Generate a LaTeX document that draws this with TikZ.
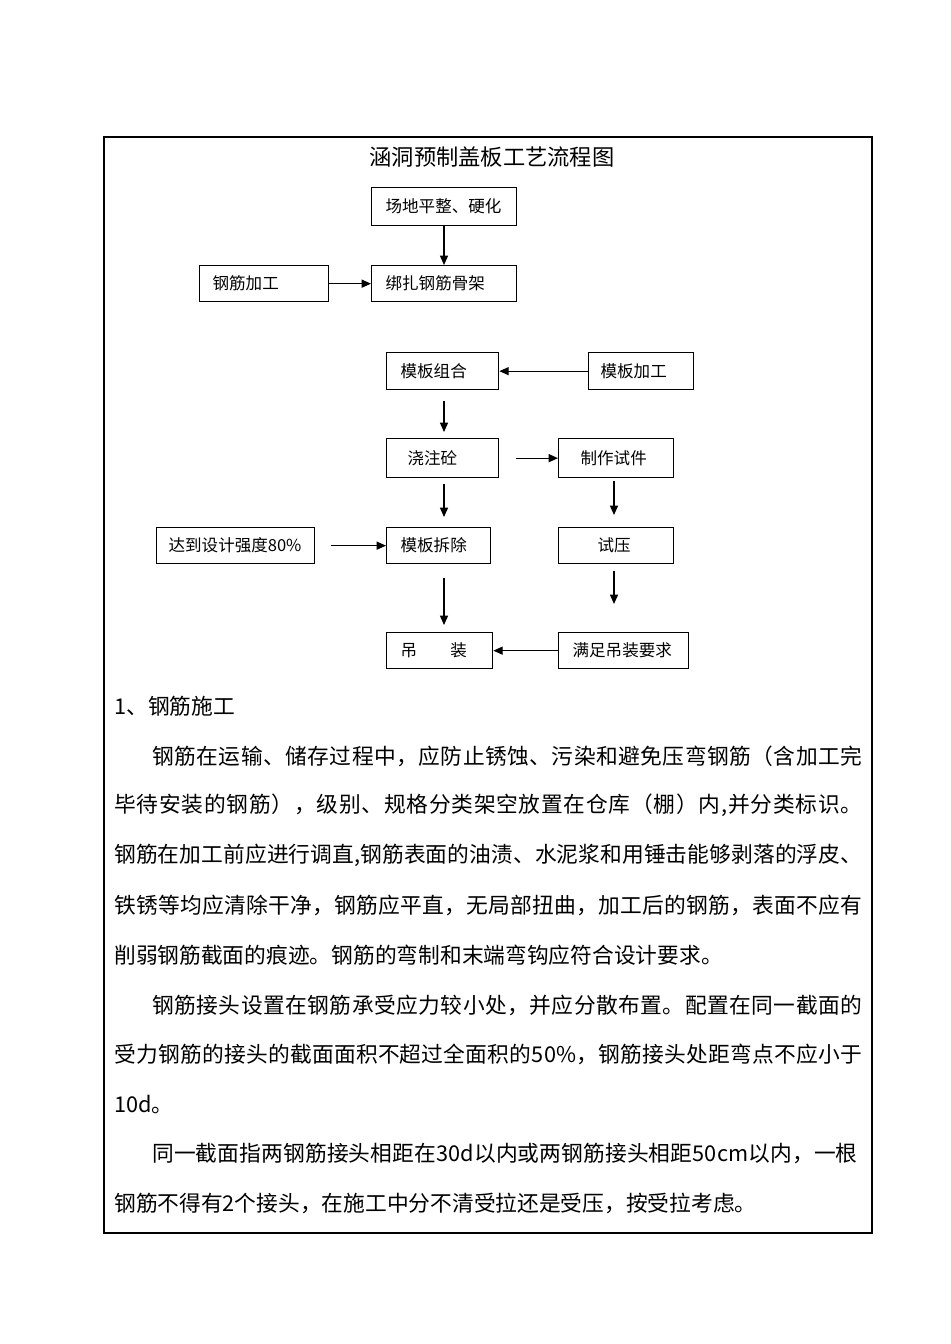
\documentclass[tikz,border=0pt]{standalone}
\usepackage{fontspec}
\newfontfamily\cjk{Noto Sans CJK SC}
\usetikzlibrary{arrows.meta}
\def\jlA#1{#1\jlB}
\def\jlB#1{\ifx\relax#1\else\hfil#1\expandafter\jlB\fi}
\newcommand\jline[2]{\hbox to #1{\jlA#2\relax}}
\begin{document}
\begin{tikzpicture}[x=0.75pt,y=-0.75pt,
  box/.style={draw,line width=1pt,font=\cjk\fontsize{12.4}{15}\selectfont,align=left,anchor=north west,inner ysep=0pt},
  arr/.style={-{Triangle[length=7pt,width=6pt]},line width=1pt},
  body/.style={anchor=west,inner sep=0pt,font=\cjk\fontsize{16.3}{20}\selectfont}]
\useasboundingbox (0,0) rectangle (950,1344);
\draw[line width=0.8pt] (104,137) rectangle (872,1233);
\node[font=\cjk\fontsize{16.7}{20}\selectfont] (title) at (492,157) {涵洞预制盖板工艺流程图};
% boxes
\node[box,text width=87.75pt,inner xsep=10.5pt,minimum height=28.5pt] (cd) at (371,187) {场地平整、硬化};
\node[box,text width=77.25pt,inner xsep=9.75pt,minimum height=27pt] (gj) at (199,265) {钢筋加工};
\node[box,text width=87.75pt,inner xsep=10.5pt,minimum height=27pt] (bz) at (371,265) {绑扎钢筋骨架};
\node[box,text width=63pt,inner xsep=10.5pt,minimum height=27.75pt] (mz) at (386,352) {模板组合};
\node[box,text width=60.75pt,inner xsep=9pt,minimum height=27.75pt] (mj) at (588,352) {模板加工};
\node[box,text width=52.5pt,inner xsep=15.75pt,minimum height=29.25pt] (jz) at (386,438) {浇注砼};
\node[box,text width=53.25pt,inner xsep=16.5pt,minimum height=29.25pt] (zs) at (558,438) {制作试件};
\node[box,text width=100.5pt,inner xsep=9pt,minimum height=27pt] (dd) at (156,527) {达到设计强度80\%};
\node[box,text width=57pt,inner xsep=10.5pt,minimum height=27pt] (mc) at (386,527) {模板拆除};
\node[box,text width=27.75pt,inner xsep=29.25pt,minimum height=27pt] (sy) at (558,527) {试压};
\node[box,text width=58.5pt,inner xsep=10.5pt,minimum height=27pt] (dz) at (386,632) {吊\hspace{2em}装};
\node[box,text width=76.5pt,inner xsep=10.5pt,minimum height=27pt] (mq) at (558,632) {满足吊装要求};
\coordinate (cL) at (444,0);
\coordinate (cR) at (614,0);
% arrows
\draw[arr] (cd.south -| cL) -- (bz.north -| cL);
\draw[arr] (gj.east) -- (bz.west);
\draw[arr] (mj.west) -- (mz.east);
\draw[arr,shorten <=8.25pt,shorten >=4.5pt] (mz.south -| cL) -- (jz.north -| cL);
\draw[arr,shorten <=12.75pt] (jz.east) -- (zs.west);
\draw[arr,shorten <=4.5pt,shorten >=7.5pt] (jz.south -| cL) -- (mc.north -| cL);
\draw[arr,shorten <=2.25pt,shorten >=9pt] (zs.south -| cR) -- (sy.north -| cR);
\draw[arr,shorten <=12pt] (dd.east) -- (mc.west);
\draw[arr,shorten <=5.25pt,shorten >=21pt] (sy.south -| cR) -- (mq.north -| cR);
\draw[arr,shorten <=10.5pt,shorten >=5.25pt] (mc.south -| cL) -- (dz.north -| cL);
\draw[arr] (mq.west) -- (dz.east);
% text
\node[body] (l0) at (114,706) {1、钢筋施工};
\node[body] (l1) at (152,756) {\jline{532.5pt}{钢筋在运输、储存过程中，应防止锈蚀、污染和避免压弯钢筋（含加工完}};
\node[body] (l2) at (114,805) {\jline{561pt}{毕待安装的钢筋），级别、规格分类架空放置在仓库（棚）内,并分类标识。}};
\node[body] (l3) at (114,855) {\jline{561pt}{钢筋在加工前应进行调直,钢筋表面的油渍、水泥浆和用锤击能够剥落的浮皮、}};
\node[body] (l4) at (114,905) {\jline{561pt}{铁锈等均应清除干净，钢筋应平直，无局部扭曲，加工后的钢筋，表面不应有}};
\node[body] (l5) at (114,955) {削弱钢筋截面的痕迹。钢筋的弯制和末端弯钩应符合设计要求。};
\node[body] (l6) at (152,1005) {\jline{532.5pt}{钢筋接头设置在钢筋承受应力较小处，并应分散布置。配置在同一截面的}};
\node[body] (l7) at (114,1054) {\jline{561pt}{受力钢筋的接头的截面面积不超过全面积的50\%，钢筋接头处距弯点不应小于}};
\node[body] (l8) at (114,1104) {10d。};
\node[body] (l9) at (152,1153) {\jline{529pt}{同一截面指两钢筋接头相距在30d以内或两钢筋接头相距50cm以内，一根}};
\node[body] (l10) at (114,1203) {钢筋不得有2个接头，在施工中分不清受拉还是受压，按受拉考虑。};
\end{tikzpicture}
\end{document}
